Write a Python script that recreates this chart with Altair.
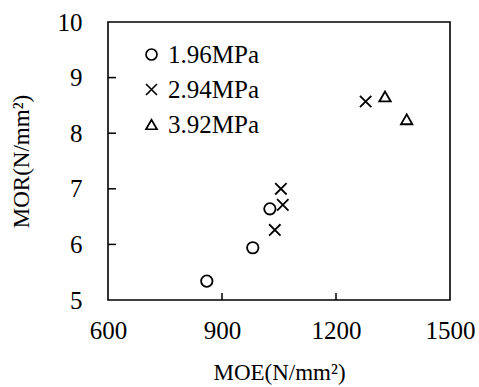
import altair as alt
import pandas as pd

# ---- data ----
series = ["1.96MPa", "1.96MPa", "1.96MPa",
          "2.94MPa", "2.94MPa", "2.94MPa", "2.94MPa",
          "3.92MPa", "3.92MPa"]
moe = [860, 981, 1026, 1039, 1060, 1055, 1278, 1329, 1386]
mor = [5.34, 5.94, 6.64, 6.26, 6.71, 7.00, 8.57, 8.66, 8.25]

x_tick_labels = [600, 900, 1200, 1500]
y_tick_labels = [5, 6, 7, 8, 9, 10]
x_inner_ticks = [900, 1200]
y_inner_ticks = [6, 7, 8, 9]

series_order = ["1.96MPa", "2.94MPa", "3.92MPa"]
series_shapes = ["circle", "M-1,-1L1,1M-1,1L1,-1", "triangle-up"]

df = pd.DataFrame({"MOE": moe, "MOR": mor, "series": series})
xt = pd.DataFrame({"v": x_inner_ticks})
yt = pd.DataFrame({"v": y_inner_ticks})

FONT = "Liberation Serif"
W, H = 342, 278

xscale = alt.Scale(domain=[600, 1500], nice=False, zero=False)
yscale = alt.Scale(domain=[5, 10], nice=False, zero=False)

points = alt.Chart(df).mark_point(filled=False, color="black", strokeWidth=1.8, size=130, opacity=1).encode(
    x=alt.X("MOE:Q", scale=xscale,
            axis=alt.Axis(values=x_tick_labels, format="d", title="MOE(N/mm²)", ticks=False,
                          domain=False, grid=False, labelFlush=False, labelOverlap=False,
                          labelPadding=18, titlePadding=18)),
    y=alt.Y("MOR:Q", scale=yscale,
            axis=alt.Axis(values=y_tick_labels, format="d", title="MOR(N/mm²)", ticks=False,
                          domain=False, grid=False, labelFlush=False, labelOverlap=False,
                          labelPadding=26, titlePadding=24)),
    shape=alt.Shape("series:N", scale=alt.Scale(domain=series_order, range=series_shapes),
                    legend=alt.Legend(title=None, orient="none", legendX=31, legendY=20,
                                      padding=0, rowPadding=9, labelOffset=4)),
)

xticks = alt.Chart(xt).mark_rule(color="black", strokeWidth=1.5).encode(
    x=alt.X("v:Q", scale=xscale), y=alt.value(H), y2=alt.value(H - 7))
yticks = alt.Chart(yt).mark_rule(color="black", strokeWidth=1.5).encode(
    y=alt.Y("v:Q", scale=yscale), x=alt.value(0), x2=alt.value(8))

chart = alt.layer(points, xticks, yticks).properties(
    width=W, height=H,
    autosize=alt.AutoSizeParams(type="none"),
    padding={"left": 108, "top": 22, "right": 29, "bottom": 87},
).configure_view(stroke="black", strokeWidth=1.6).configure_axis(
    labelFont=FONT, labelFontSize=25, labelColor="black",
    titleFont=FONT, titleFontSize=23, titleColor="black", titleFontWeight="normal",
).configure_legend(
    labelFont=FONT, labelFontSize=25, labelColor="black",
    symbolStrokeColor="black", symbolFillColor="transparent", symbolStrokeWidth=1.7,
    symbolSize=120,
)

chart.save("out.html", embed_options={"renderer": "svg", "actions": False})
